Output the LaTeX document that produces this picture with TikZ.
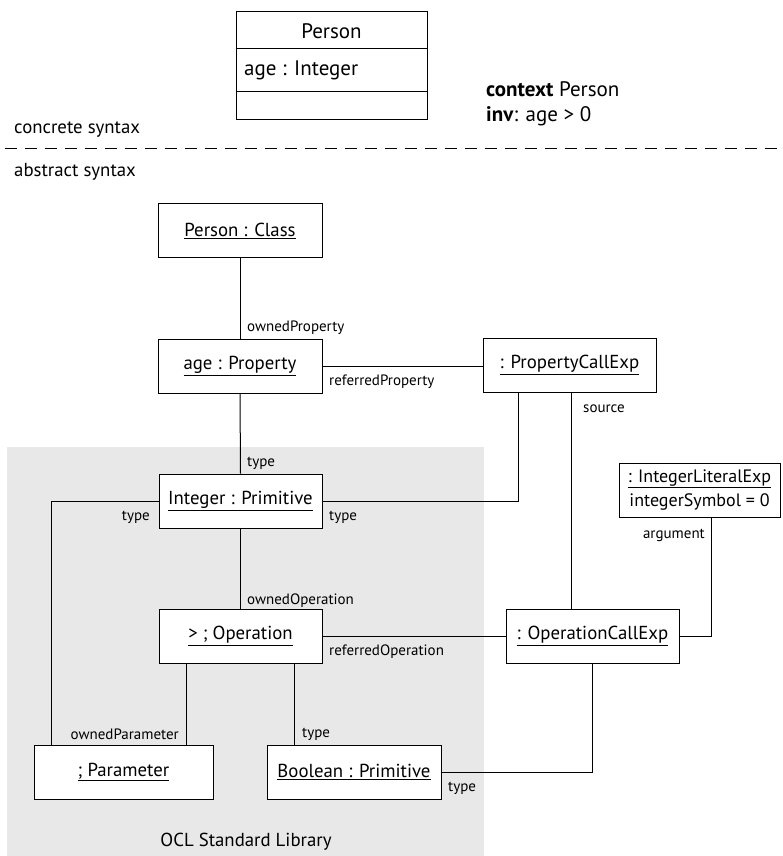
\documentclass[tikz,border=0pt]{standalone}
\usepackage{fontspec}
\setmainfont{PT Sans}
\usetikzlibrary{calc}
\definecolor{libgray}{HTML}{E8E8E8}
\begin{document}
\begin{tikzpicture}[x=1pt,y=-1pt,
  obj/.style={draw, fill=white, line width=1pt, minimum height=54pt, inner sep=0pt,
    align=center, font=\fontsize{18.8}{22}\selectfont},
  lbl/.style={font=\fontsize{15}{17}\selectfont, inner sep=0pt},
  body/.style={font=\fontsize{18.8}{22}\selectfont, inner sep=0pt},
  big/.style={font=\fontsize{21}{24}\selectfont, inner sep=0pt},
  conn/.style={line width=1pt}]
\useasboundingbox (0,0) rectangle (782,856);

% OCL standard library area
\fill[libgray] (7,447) rectangle (484,856);
\node[body, anchor=center] (libname) at (246,842) {OCL Standard Library};

% concrete syntax: UML class and OCL invariant
\node[draw, line width=1pt, minimum width=191pt, minimum height=108pt, inner sep=0pt] (cls) at (331.5,66) {};
\draw[conn] (cls.west |- 0,49) -- (cls.east |- 0,49);
\draw[conn] (cls.west |- 0,92) -- (cls.east |- 0,92);
\node[big] (clsname) at (331.5,31) {Person};
\node[big, anchor=west] (clsattr) at (244,70) {age : Integer};
\node[big, anchor=west] (ctx) at (486,89) {\textbf{context} Person};
\node[big, anchor=west] (inv) at (486,116) {\textbf{inv}: age > 0};

% separator between the two syntaxes
\node[body, anchor=west] (concrete) at (14,130) {concrete syntax};
\draw[line width=1pt, dash pattern=on 12pt off 8pt] (5,148) -- (782,148);
\node[body, anchor=west] (abstract) at (14,172) {abstract syntax};

% object instances
\node[obj, minimum width=164pt] (pclass) at (240,230.5) {\underline{Person : Class}};
\node[obj, minimum width=164pt] (ageprop) at (240,366) {\underline{age : Property}};
\node[obj, minimum width=173pt] (pce) at (569.5,365) {\underline{: PropertyCallExp}};
\node[obj, minimum width=163pt] (intprim) at (240.5,501) {\underline{Integer : Primitive}};
\node[obj, minimum width=161pt, font=\fontsize{18}{24}\selectfont] (ile) at (699.5,490) {\underline{: IntegerLiteralExp}\\integerSymbol = 0};
\node[obj, minimum width=163pt] (oper) at (240.5,636) {\underline{> ; Operation}};
\node[obj, minimum width=173pt] (oce) at (592.5,636) {\underline{: OperationCallExp}};
\node[obj, minimum width=179pt] (param) at (123.5,772) {\underline{; Parameter}};
\node[obj, minimum width=174pt] (bool) at (354,772) {\underline{Boolean : Primitive}};

% links
\draw[conn] (pclass.south) -- (ageprop.north);
\draw[conn] (ageprop.east) -- (ageprop.east -| pce.west);
\draw[conn] (ageprop.south) -- (intprim.north);
\draw[conn] (intprim.west) -| ($(param.north west)+(18,0)$);
\draw[conn] (intprim.east) -| ($(pce.south west)+(36,0)$);
\draw[conn] (pce.south -| 571,0) -- (oce.north -| 571,0);
\draw[conn] (intprim.south) -- (oper.north);
\draw[conn] (oper.east) -- (oper.east -| oce.west);
\draw[conn] (oce.east) -| (ile.south -| 711,0);
\draw[conn] (oper.south -| 186,0) -- (param.north -| 186,0);
\draw[conn] (oper.south -| 294,0) -- (bool.north -| 294,0);
\draw[conn] (oce.south) |- (bool.east);

% role names
\node[lbl, anchor=west] (l1) at (247,328) {ownedProperty};
\node[lbl, anchor=west] (l2) at (329,382) {referredProperty};
\node[lbl, anchor=west] (l3) at (247,463) {type};
\node[lbl, anchor=east] (l4) at (150,517) {type};
\node[lbl, anchor=west] (l5) at (329,517) {type};
\node[lbl, anchor=west] (l6) at (583,409) {source};
\node[lbl, anchor=east] (l7) at (705,535) {argument};
\node[lbl, anchor=west] (l8) at (247,601) {ownedOperation};
\node[lbl, anchor=west] (l9) at (329,652) {referredOperation};
\node[lbl, anchor=east] (l10) at (179,734) {ownedParameter};
\node[lbl, anchor=west] (l11) at (302,734) {type};
\node[lbl, anchor=west] (l12) at (448,788) {type};
\end{tikzpicture}
\end{document}
